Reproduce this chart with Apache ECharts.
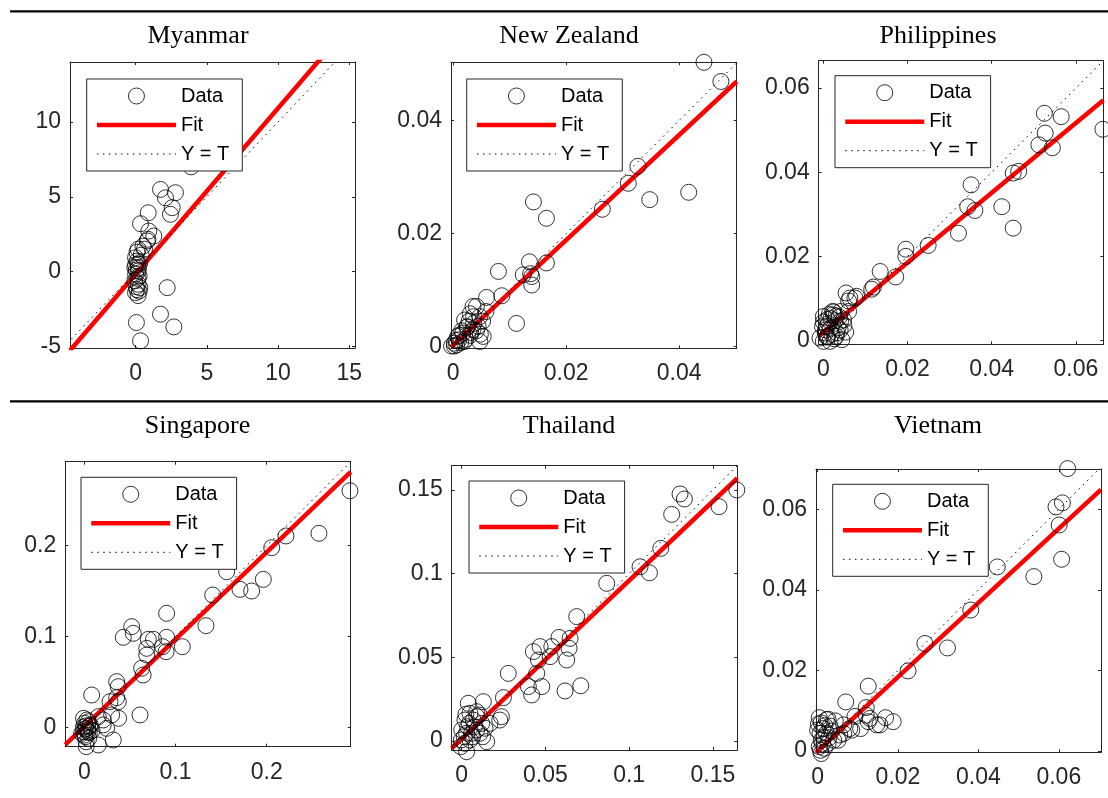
<!DOCTYPE html>
<html>
<head>
<meta charset="utf-8">
<script src="https://cdn.jsdelivr.net/npm/echarts@6/dist/echarts.min.js"></script>
<style>
	html, body { margin: 0; padding: 0; background: #fff; }
	#chart { width: 1108px; height: 798px; }
</style>
</head>
<body>
<div id="chart"></div>
<script>
// Target (T) vs output (Y) pairs
var dataMyanmar = [
	[3.9, 7.0], [1.75, 5.49], [2.8, 5.27], [2.1, 4.93], [2.57, 4.27], [2.45, 3.83], [0.89, 3.93],
	[0.35, 3.2], [0.93, 2.71], [1.28, 2.38], [0.87, 2.16], [0.52, 1.7], [0.18, 1.5], [0.63, 1.5],
	[0.0, 0.93], [0.18, 0.49], [-0.05, 0.27], [0.18, 0.04], [0.0, -0.18], [-0.05, -0.62], [0.18, -0.84],
	[0.3, -1.07], [0.0, -1.4], [0.18, -1.6], [2.22, -1.07], [1.75, -2.84], [2.69, -3.69], [0.06, -3.4],
	[0.35, -4.62], [0.1, 0.7], [0.05, 0.1], [0.25, -0.3], [0.1, -1.2], [0.3, 0.6], [0.4, 1.1], [0.82, 2.05],
	[0.1, 1.3], [0.0, 0.45], [0.15, -0.45], [0.05, -1.0], [0.2, 0.25], [0.25, -1.3]
];
var dataNewZealand = [
	[0.0444, 0.0503], [0.0474, 0.0469], [0.0327, 0.0319], [0.031, 0.0289], [0.0417, 0.0273], [0.0348, 0.026],
	[0.0264, 0.0243], [0.0142, 0.0256], [0.0165, 0.0227], [0.0165, 0.0148], [0.0135, 0.015], [0.008, 0.0133],
	[0.0124, 0.0127], [0.0137, 0.0129], [0.0139, 0.0124], [0.0139, 0.0109], [0.0086, 0.009], [0.0059, 0.0087],
	[0.0112, 0.0041], [0.0058, 0.0062], [0.0041, 0.0071], [0.003, 0.0058], [0.0047, 0.0009], [0.0036, 0.0041],
	[0.0025, 0.0035], [0.0017, 0.0024], [0.0008, 0.0018], [0.0002, 0.0006], [-0.0003, 0.0001], [0.0005, 0.0011],
	[0.0041, 0.0028], [0.003, 0.002], [0.0022, 0.0013], [0.0013, 0.0007], [0.0002, 0.0001], [0.0036, 0.0053],
	[0.002, 0.0047], [0.0053, 0.0018], [0.0024, 0.0035], [0.0035, 0.003], [0.001, 0.0012], [0.0035, 0.0071],
	[0.0047, 0.0053], [0.0015, 0.0028], [0.0028, 0.0045], [0.0044, 0.0036], [0.0006, 0.0003], [0.0019, 0.0009],
	[0.0031, 0.0025], [0.0048, 0.0022], [0.0052, 0.0045], [0.001, 0.002]
];
var dataPhilippines = [
	[0.0664, 0.0502], [0.0525, 0.054], [0.0565, 0.0532], [0.0527, 0.0493], [0.0512, 0.0465], [0.0544, 0.0458],
	[0.0451, 0.0398], [0.0464, 0.0402], [0.0351, 0.037], [0.0343, 0.0318], [0.036, 0.0309], [0.0424, 0.0318],
	[0.0451, 0.0267], [0.0321, 0.0255], [0.0249, 0.0226], [0.0196, 0.0217], [0.0196, 0.02], [0.0135, 0.0164],
	[0.0172, 0.0151], [0.0119, 0.0127], [0.0115, 0.0122], [0.0054, 0.0113], [0.0075, 0.0101], [0.006, 0.0094],
	[0.006, 0.0069], [0.0022, 0.0069], [0.003, 0.0058], [0.001, 0.005], [0.0041, 0.0046], [0.0049, 0.0036],
	[0.0053, 0.002], [0.0026, 0.0004], [0.0, -0.0002], [0.0005, 0.0018], [-0.0002, 0.0033], [0.0017, 0.0029],
	[0.0032, 0.0018], [0.001, 0.001], [0.0, 0.0044], [0.0014, 0.0062], [0.0041, 0.0069], [0.0079, 0.0105],
	[0.0063, 0.0101], [0.0024, 0.0061], [0.0, 0.0057], [0.0008, 0.0033], [0.004, 0.0025], [0.0044, 0.0002],
	[0.0016, -0.0002], [-0.0008, 0.0006], [0.0048, 0.0049], [0.0012, 0.004], [0.0028, 0.0047], [0.0035, 0.003],
	[0.002, 0.0015], [0.0005, 0.0025], [0.0038, 0.0056], [0.0025, 0.0068], [0.0009, 0.0008], [0.0018, 0.0052],
	[0.003, 0.001]
];
var dataSingapore = [
	[0.2913, 0.2604], [0.2573, 0.2136], [0.2211, 0.2107], [0.2055, 0.1978], [0.1561, 0.1714], [0.1707, 0.152],
	[0.1835, 0.1502], [0.1963, 0.163], [0.1408, 0.1458], [0.1334, 0.1121], [0.0903, 0.1257], [0.1075, 0.089],
	[0.052, 0.111], [0.0537, 0.1037], [0.0428, 0.0993], [0.0702, 0.0971], [0.0759, 0.0971], [0.0903, 0.0993],
	[0.0859, 0.089], [0.0897, 0.0835], [0.0685, 0.0872], [0.0685, 0.0799], [0.0629, 0.0653], [0.0645, 0.0579],
	[0.0355, 0.0506], [0.0373, 0.0451], [0.0355, 0.033], [0.0373, 0.0286], [0.0282, 0.0286], [0.0611, 0.014],
	[0.0376, 0.0103], [0.0081, 0.0359], [0.0208, 0.0085], [0.0245, -0.0007], [0.0318, -0.0135], [0.0154, -0.019],
	[0.0022, -0.0208], [0.0003, 0.0048], [0.0022, -0.0007], [0.004, -0.0044], [-0.0008, -0.0044], [0.0011, -0.0099],
	[0.0055, -0.0055], [0.0029, 0.0085], [-0.0008, 0.0103], [0.0066, 0.0029], [0.0048, -0.0118], [0.0003, -0.0081],
	[0.03, 0.014], [0.0154, 0.0121], [0.0208, 0.003], [-0.0029, -0.0062], [0.0015, 0.002], [0.006, 0.0015],
	[-0.001, 0.0005], [0.0035, -0.0025], [0.0008, -0.0015], [0.0085, -0.003], [0.0045, 0.0065], [0.002, -0.0155]
];
var dataThailand = [
	[0.1643, 0.15], [0.1537, 0.14], [0.1304, 0.1476], [0.133, 0.1446], [0.1254, 0.1354], [0.1189, 0.1151],
	[0.1065, 0.1041], [0.1121, 0.1005], [0.0866, 0.0942], [0.0687, 0.0743], [0.0647, 0.0613], [0.0581, 0.0619],
	[0.0641, 0.0554], [0.0627, 0.0484], [0.0538, 0.0564], [0.0528, 0.0504], [0.0468, 0.0564], [0.0428, 0.0534],
	[0.0458, 0.0484], [0.0448, 0.0404], [0.0478, 0.0325], [0.0398, 0.0325], [0.0418, 0.0275], [0.0617, 0.0299],
	[0.0711, 0.033], [0.0278, 0.0404], [0.0249, 0.0259], [0.0237, 0.0145], [0.0227, 0.0125], [0.0129, 0.0235],
	[0.0039, 0.0225], [0.0089, 0.0175], [0.0139, 0.0076], [0.0149, -0.0004], [0.0029, -0.0064], [0.0019, 0.0125],
	[0.0049, 0.0165], [0.0069, 0.0125], [0.0, 0.0066], [0.0029, 0.0046], [0.0059, 0.0046], [-0.0002, 0.0006],
	[0.0019, -0.0014], [0.0089, 0.0066], [0.0119, 0.0105], [0.0169, 0.0105], [0.0049, 0.0006], [-0.0006, -0.0034],
	[0.0109, 0.0046], [0.0035, 0.0085], [0.0075, 0.0085], [0.0015, 0.0025], [0.0045, 0.0105], [0.009, 0.0145],
	[0.0025, 0.016], [0.0105, 0.0155], [0.0065, 0.0025], [0.0125, 0.0025]
];
var dataVietnam = [
	[0.0622, 0.0701], [0.0593, 0.0606], [0.0609, 0.0616], [0.0601, 0.0561], [0.0607, 0.0476], [0.0538, 0.0433],
	[0.0447, 0.0457], [0.0381, 0.035], [0.0323, 0.0256], [0.0267, 0.0267], [0.0225, 0.0199], [0.0126, 0.0161],
	[0.007, 0.0122], [0.0121, 0.0108], [0.0188, 0.0073], [0.0169, 0.0083], [0.0147, 0.0065], [0.0126, 0.0073],
	[0.0121, 0.0089], [0.0093, 0.0086], [0.0107, 0.0056], [0.0085, 0.0052], [0.0065, 0.0065], [0.0051, 0.0027],
	[0.0065, 0.0044], [0.0004, 0.0083], [0.0026, 0.0079], [0.0009, 0.007], [0.0031, 0.0062], [0.0, 0.0052],
	[0.0022, 0.0044], [0.0009, 0.0027], [0.0026, 0.0019], [0.0004, 0.0011], [0.0009, -0.0006], [0.004, 0.0027],
	[0.0013, 0.0056], [0.0044, 0.0075], [0.0017, 0.0007], [0.0155, 0.0065], [0.013, 0.0081], [0.008, 0.0056],
	[0.0055, 0.004], [0.0018, 0.0063], [0.0006, 0.0044], [0.0035, 0.005], [0.0012, 0.0018], [0.0028, 0.0033],
	[0.0002, 0.0067], [0.0022, 0.0078], [0.0015, 0.0035], [0.0007, 0.0002]
];

// regression fit lines, two end points [T, Y] each
var fitMyanmar = [[-4.6, -5.27], [15.4, 16.9]];
var fitNewZealand = [[-0.0004, -0.0001], [0.0502, 0.0469]];
var fitPhilippines = [[-0.0011, 0.001], [0.0665, 0.0571]];
var fitSingapore = [[-0.0208, -0.0186], [0.2921, 0.2811]];
var fitThailand = [[-0.006, -0.0044], [0.1646, 0.157]];
var fitVietnam = [[-0.0004, -0.0004], [0.0705, 0.0649]];

// axis limits
var xLimMyanmar = [-4.6, 15.4], yLimMyanmar = [-5.1, 14];
var xLimNewZealand = [-0.0004, 0.0502], yLimNewZealand = [-0.0003, 0.0503];
var xLimPhilippines = [-0.0011, 0.0665], yLimPhilippines = [-0.0009, 0.0665];
var xLimSingapore = [-0.0208, 0.2921], yLimSingapore = [-0.0209, 0.2923];
var xLimThailand = [-0.006, 0.1646], yLimThailand = [-0.0054, 0.1645];
var xLimVietnam = [-0.0004, 0.0705], yLimVietnam = [-0.0003, 0.07];

// tick labels
var xTicksMyanmar = [0, 5, 10, 15], yTicksMyanmar = [-5, 0, 5, 10];
var ticksNewZealand = [0, 0.02, 0.04];
var ticksPhilippines = [0, 0.02, 0.04, 0.06];
var ticksSingapore = [0, 0.1, 0.2];
var ticksThailand = [0, 0.05, 0.1, 0.15];
var ticksVietnam = [0, 0.02, 0.04, 0.06];

var panels = [
	{ name: "Myanmar", data: dataMyanmar, fit: fitMyanmar, xLim: xLimMyanmar, yLim: yLimMyanmar, xTicks: xTicksMyanmar, yTicks: yTicksMyanmar },
	{ name: "New Zealand", data: dataNewZealand, fit: fitNewZealand, xLim: xLimNewZealand, yLim: yLimNewZealand, xTicks: ticksNewZealand, yTicks: ticksNewZealand },
	{ name: "Philippines", data: dataPhilippines, fit: fitPhilippines, xLim: xLimPhilippines, yLim: yLimPhilippines, xTicks: ticksPhilippines, yTicks: ticksPhilippines },
	{ name: "Singapore", data: dataSingapore, fit: fitSingapore, xLim: xLimSingapore, yLim: yLimSingapore, xTicks: ticksSingapore, yTicks: ticksSingapore },
	{ name: "Thailand", data: dataThailand, fit: fitThailand, xLim: xLimThailand, yLim: yLimThailand, xTicks: ticksThailand, yTicks: ticksThailand },
	{ name: "Vietnam", data: dataVietnam, fit: fitVietnam, xLim: xLimVietnam, yLim: yLimVietnam, xTicks: ticksVietnam, yTicks: ticksVietnam }
];

// page layout: plot box [left, top, width, height], legend corner, title centre
var layout = [
	{ grid: [70, 62, 285, 286], legend: [86.7, 79], title: [198, 36] },
	{ grid: [451, 62.3, 285.7, 286], legend: [466.7, 79], title: [569, 36] },
	{ grid: [818.7, 60.7, 284.6, 283.6], legend: [835, 75.7], title: [938, 36] },
	{ grid: [65.3, 461.7, 285.4, 285], legend: [81, 477.3], title: [197.5, 426] },
	{ grid: [451.7, 465.7, 285.6, 284.3], legend: [469, 481], title: [569, 426] },
	{ grid: [816, 469, 285, 283.3], legend: [832.7, 484.3], title: [938, 426] }
];

var AXIS_COLOR = "#262626";
var SANS = "'Liberation Sans', Arial, sans-serif";
var SERIF = "'Liberation Serif', 'Times New Roman', serif";

function fmt(v) {
	return String(parseFloat(Number(v).toPrecision(6)));
}

function makeAxis(gridIndex, lim, ticks, position, showLabel) {
	return {
		type: "value",
		gridIndex: gridIndex,
		position: position,
		min: lim[0],
		max: lim[1],
		splitLine: { show: false },
		axisLine: { show: true, onZero: false, lineStyle: { color: AXIS_COLOR, width: 1 } },
		axisTick: { show: true, inside: true, length: 3, customValues: ticks, lineStyle: { color: AXIS_COLOR } },
		axisLabel: {
			show: showLabel,
			customValues: ticks,
			margin: (position == "bottom") ? 14 : 9,
			fontSize: 23,
			fontFamily: SANS,
			color: AXIS_COLOR,
			formatter: fmt
		}
	};
}

var grids = [], xAxes = [], yAxes = [], series = [], legends = [], graphics = [];

for (var i = 0; i < panels.length; i++) {
	var p = panels[i], l = layout[i];
	grids.push({ left: l.grid[0], top: l.grid[1], width: l.grid[2], height: l.grid[3], containLabel: false, outerBoundsMode: "none" });

	xAxes.push(makeAxis(i, p.xLim, p.xTicks, "bottom", true));
	xAxes.push(makeAxis(i, p.xLim, p.xTicks, "top", false));
	yAxes.push(makeAxis(i, p.yLim, p.yTicks, "left", true));
	yAxes.push(makeAxis(i, p.yLim, p.yTicks, "right", false));

	var lo = Math.min(p.xLim[0], p.yLim[0]), hi = Math.max(p.xLim[1], p.yLim[1]);

	series.push({
		type: "line", name: "Fit", xAxisIndex: 2 * i, yAxisIndex: 2 * i,
		data: p.fit, symbol: "none", silent: true, z: 2,
		lineStyle: { color: "#ff0000", width: 4.5 }
	});
	series.push({
		type: "line", name: "Y = T", xAxisIndex: 2 * i, yAxisIndex: 2 * i,
		data: [[lo, lo], [hi, hi]], symbol: "none", silent: true, z: 2,
		lineStyle: { color: "#000", width: 1, type: [1.5, 4.5] }
	});
	series.push({
		type: "scatter", name: "Data", xAxisIndex: 2 * i, yAxisIndex: 2 * i,
		data: p.data, symbol: "circle", symbolSize: 16, clip: false, silent: true, z: 3,
		itemStyle: { color: "rgba(0,0,0,0)", borderColor: "#000", borderWidth: 1 }
	});

	legends.push({
		left: l.legend[0], top: l.legend[1],
		orient: "vertical", align: "left", selectedMode: false, z: 10,
		backgroundColor: "#fff", borderColor: AXIS_COLOR, borderWidth: 1, borderRadius: 0,
		padding: [7, 13, 7, 8],
		itemWidth: 79, itemHeight: 16, itemGap: 9,
		textStyle: { fontSize: 20, fontFamily: SANS, color: "#000", lineHeight: 20 },
		data: [
			{ name: "Data", itemStyle: { borderWidth: 1 } },
			{ name: "Fit", itemStyle: { opacity: 0 }, lineStyle: { width: 4.5 } },
			{ name: "Y = T", itemStyle: { opacity: 0 }, lineStyle: { width: 1 } }
		]
	});

	graphics.push({
		type: "text", x: l.title[0], y: l.title[1], z: 20,
		style: {
			text: p.name, fill: "#000", fontSize: 26, fontFamily: SERIF,
			align: "center", verticalAlign: "middle",
			textAlign: "center", textVerticalAlign: "middle"
		}
	});
}

// horizontal rules between the rows
graphics.push({ type: "line", shape: { x1: 10, y1: 11.3, x2: 1108, y2: 11.3 }, style: { stroke: "#000", lineWidth: 2.3 } });
graphics.push({ type: "line", shape: { x1: 10, y1: 401.3, x2: 1108, y2: 401.3 }, style: { stroke: "#000", lineWidth: 2.3 } });

var chart = echarts.init(document.getElementById("chart"), null, { renderer: "canvas" });
chart.setOption({
	animation: false,
	backgroundColor: "#fff",
	grid: grids,
	xAxis: xAxes,
	yAxis: yAxes,
	legend: legends,
	graphic: graphics,
	series: series
});
</script>
</body>
</html>
